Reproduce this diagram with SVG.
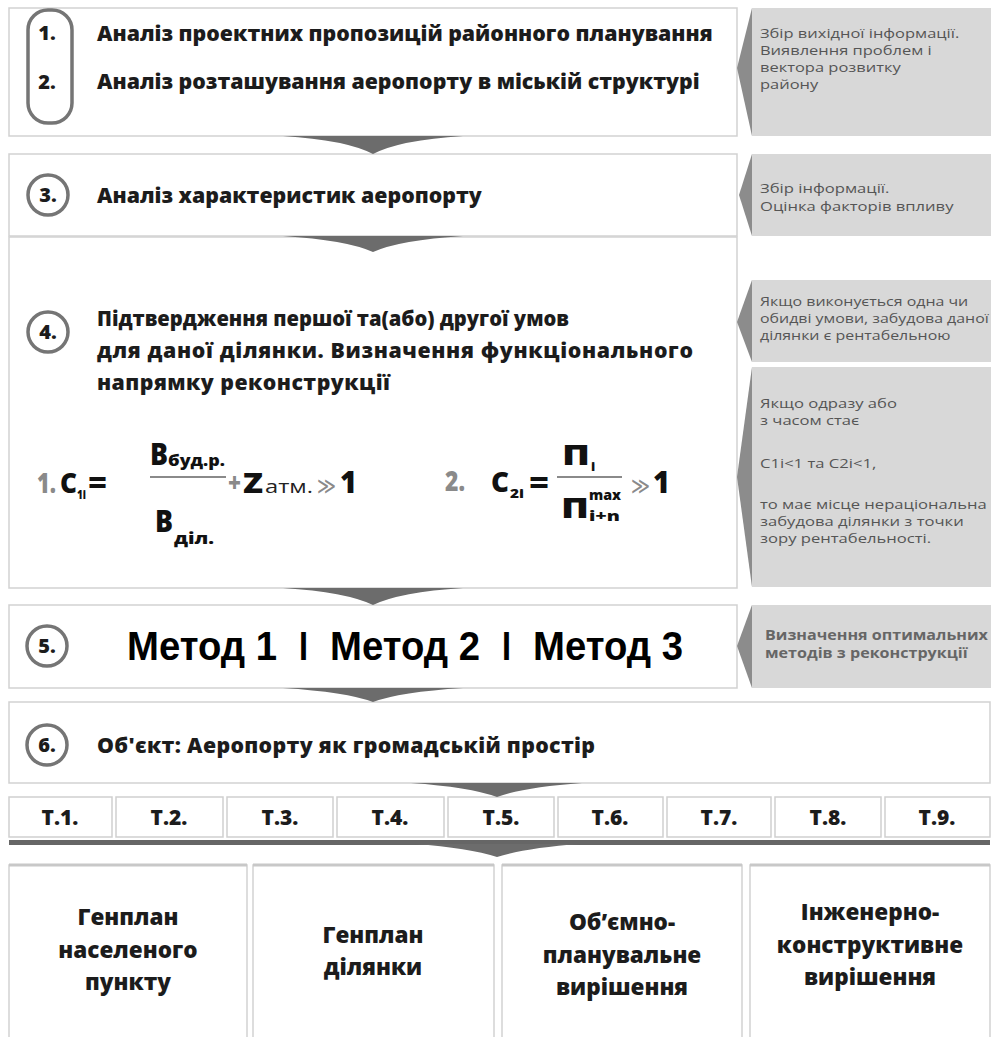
<svg xmlns="http://www.w3.org/2000/svg" width="991" height="1037" viewBox="0 0 991 1037">
<style>
.box{fill:#fff;stroke:#d2d2d2;stroke-width:1.5}
.cell{fill:#fff;stroke:#cfcfcf;stroke-width:1.5}
.panel{fill:#d8d8d8}
.wedge{fill:#8c8c8c}
.arrow{fill:#6c6c6c}
.circ{fill:#fff;stroke:#757575;stroke-width:3.5}
.h{font-family:"Open Sans","DejaVu Sans",sans-serif;font-weight:800;font-size:21.3px;fill:#1c1c1c}
.num{font-family:"Open Sans","DejaVu Sans",sans-serif;font-weight:800;font-size:20px;fill:#1c1c1c;text-anchor:middle}
.p{font-family:"Open Sans","DejaVu Sans",sans-serif;font-size:13.5px;fill:#555}
.pb{font-family:"Open Sans","DejaVu Sans",sans-serif;font-weight:700;font-size:14px;fill:#666}
.t{font-family:"Open Sans","DejaVu Sans",sans-serif;font-weight:800;font-size:21px;fill:#1c1c1c;text-anchor:middle}
.b{font-family:"Open Sans","DejaVu Sans",sans-serif;font-weight:800;font-size:22.5px;fill:#1c1c1c;text-anchor:middle}
.f{font-family:"Open Sans","DejaVu Sans",sans-serif;font-weight:800;fill:#111}
.fg{font-family:"Open Sans","DejaVu Sans",sans-serif;font-weight:800;fill:#8a8a8a}
.fl{stroke:#8a8a8a;stroke-width:2}
.m{font-family:"Liberation Sans",Arial,sans-serif;font-weight:700;font-size:40px;fill:#000}
</style>
<rect width="991" height="1037" fill="#fff"/>

<g id="step12">
<rect class="box" x="9" y="8" width="728" height="128"/>
<rect x="28" y="10" width="44" height="113" rx="20" fill="none" stroke="#757575" stroke-width="3.5"/>
<text class="num" x="47" y="40">1.</text>
<text class="num" x="47" y="89">2.</text>
<text class="h" x="97" y="41">Аналіз проектних пропозицій районного планування</text>
<text class="h" x="97" y="89">Аналіз розташування аеропорту в міській структурі</text>
</g>
<g id="note1">
<rect class="panel" x="752" y="8" width="239" height="128"/>
<polygon class="wedge" points="752,8 737,68 752,136"/>
<g transform="translate(760,0) scale(1.22,1) translate(-760,0)">
<text class="p" x="760" y="38">Збір вихідної інформації.</text>
<text class="p" x="760" y="55">Виявлення проблем і</text>
<text class="p" x="760" y="72">вектора розвитку</text>
<text class="p" x="760" y="89">району</text>
</g>
</g>

<g id="step3">
<rect class="box" x="9" y="154" width="728" height="82"/>
<circle class="circ" cx="48" cy="195" r="20"/>
<text class="num" x="48" y="202">3.</text>
<text class="h" x="97" y="203">Аналіз характеристик аеропорту</text>
</g>
<g id="note3">
<rect class="panel" x="752" y="154" width="239" height="82"/>
<polygon class="wedge" points="752,154 739,195 752,236"/>
<g transform="translate(760,0) scale(1.23,1) translate(-760,0)">
<text class="p" x="760" y="193">Збір інформації.</text>
<text class="p" x="760" y="211">Оцінка факторів впливу</text>
</g>
</g>

<g id="step4">
<rect class="box" x="9" y="237" width="728" height="351"/>
<circle class="circ" cx="48" cy="332" r="20"/>
<text class="num" x="48" y="339">4.</text>
<text class="h" x="97" y="326" textLength="472" lengthAdjust="spacingAndGlyphs">Підтвердження першої та(або) другої умов</text>
<text class="h" x="97" y="358" textLength="596" lengthAdjust="spacing">для даної ділянки. Визначення функціонального</text>
<text class="h" x="97" y="390" textLength="293" lengthAdjust="spacing">напрямку  реконструкції</text>
<g id="formula1">
<text class="fg" x="37" y="493" font-size="28" textLength="19" lengthAdjust="spacingAndGlyphs">1.</text>
<text class="f" x="60" y="493" font-size="28" textLength="17" lengthAdjust="spacingAndGlyphs">C</text>
<text class="f" x="77" y="499" font-size="13" textLength="9" lengthAdjust="spacingAndGlyphs">1i</text>
<text class="f" x="88" y="493" font-size="30" fill="#444" textLength="19" lengthAdjust="spacingAndGlyphs">=</text>
<text class="f" x="150" y="465" font-size="30" textLength="18" lengthAdjust="spacingAndGlyphs">B</text>
<text class="f" x="168" y="466" font-size="15" textLength="57" lengthAdjust="spacingAndGlyphs">буд.р.</text>
<line class="fl" x1="150" y1="477" x2="226" y2="477"/>
<text class="f" x="155" y="532" font-size="30" textLength="18" lengthAdjust="spacingAndGlyphs">B</text>
<text class="f" x="174" y="544" font-size="15" textLength="40" lengthAdjust="spacingAndGlyphs">діл.</text>
<text class="fg" x="228" y="492" font-size="26" textLength="13" lengthAdjust="spacingAndGlyphs">+</text>
<text class="f" x="243" y="493" font-size="28" textLength="20" lengthAdjust="spacingAndGlyphs">Z</text>
<text x="265" y="493" font-family="Open Sans, sans-serif" font-size="19" fill="#222" textLength="48" lengthAdjust="spacingAndGlyphs">атм.</text>
<text x="317" y="494" font-family="DejaVu Sans, sans-serif" font-size="24" fill="#8a8a8a" textLength="19" lengthAdjust="spacingAndGlyphs">≫</text>
<text class="f" x="340" y="493" font-size="30" textLength="17" lengthAdjust="spacingAndGlyphs">1</text>
</g>
<g id="formula2">
<text class="fg" x="445" y="491" font-size="28" textLength="20" lengthAdjust="spacingAndGlyphs">2.</text>
<text class="f" x="491" y="492" font-size="28" textLength="18" lengthAdjust="spacingAndGlyphs">C</text>
<text class="f" x="510" y="498" font-size="13" textLength="14" lengthAdjust="spacingAndGlyphs">2i</text>
<text class="f" x="529" y="493" font-size="30" fill="#444" textLength="20" lengthAdjust="spacingAndGlyphs">=</text>
<text class="f" x="562" y="465" font-size="28" textLength="28" lengthAdjust="spacingAndGlyphs">П</text>
<text class="f" x="591" y="471" font-size="13">i</text>
<line class="fl" x1="557" y1="477" x2="622" y2="477"/>
<text class="f" x="561" y="518" font-size="28" textLength="28" lengthAdjust="spacingAndGlyphs">П</text>
<text class="f" x="589" y="500" font-size="14" textLength="32" lengthAdjust="spacingAndGlyphs">max</text>
<text class="f" x="589" y="521" font-size="14" textLength="31" lengthAdjust="spacingAndGlyphs">i+n</text>
<text x="631" y="494" font-family="DejaVu Sans, sans-serif" font-size="24" fill="#8a8a8a" textLength="19" lengthAdjust="spacingAndGlyphs">≫</text>
<text class="f" x="653" y="493" font-size="30" textLength="17" lengthAdjust="spacingAndGlyphs">1</text>
</g>
</g>
<g id="note4a">
<rect class="panel" x="752" y="280" width="239" height="82"/>
<polygon class="wedge" points="752,280 737,322 752,362"/>
<g transform="translate(760,0) scale(1.18,1) translate(-760,0)">
<text class="p" x="760" y="306">Якщо виконується одна чи</text>
<text class="p" x="760" y="323">обидві умови, забудова даної</text>
<text class="p" x="760" y="340">ділянки є рентабельною</text>
</g>
</g>
<g id="note4b">
<rect class="panel" x="752" y="367" width="239" height="220"/>
<polygon class="wedge" points="752,367 737,477 752,587"/>
<g transform="translate(760,0) scale(1.23,1) translate(-760,0)">
<text class="p" x="760" y="408">Якщо одразу або</text>
<text class="p" x="760" y="425">з часом стає</text>
<text class="p" x="760" y="468">C1i&lt;1 та C2i&lt;1,</text>
<text class="p" x="760" y="509">то має місце нераціональна</text>
<text class="p" x="760" y="526">забудова ділянки з точки</text>
<text class="p" x="760" y="543">зору рентабельності.</text>
</g>
</g>

<g id="step5">
<rect class="box" x="9" y="605" width="728" height="83"/>
<circle class="circ" cx="47" cy="646" r="20"/>
<text class="num" x="47" y="653">5.</text>
<text class="m" x="127" y="660" textLength="150" lengthAdjust="spacingAndGlyphs">Метод 1</text>
<text class="m" x="299" y="660" textLength="9" lengthAdjust="spacingAndGlyphs">I</text>
<text class="m" x="330" y="660" textLength="150" lengthAdjust="spacingAndGlyphs">Метод 2</text>
<text class="m" x="502" y="660" textLength="9" lengthAdjust="spacingAndGlyphs">I</text>
<text class="m" x="533" y="660" textLength="150" lengthAdjust="spacingAndGlyphs">Метод 3</text>
</g>
<g id="note5">
<rect class="panel" x="752" y="605" width="239" height="83"/>
<polygon class="wedge" points="752,605 737,646 752,688"/>
<g transform="translate(765,0) scale(1.15,1) translate(-765,0)">
<text class="pb" x="765" y="640">Визначення оптимальних</text>
<text class="pb" x="765" y="658">методів з реконструкції</text>
</g>
</g>

<g id="step6">
<rect class="box" x="9" y="702" width="981" height="81"/>
<circle class="circ" cx="47" cy="745" r="20"/>
<text class="num" x="47" y="752">6.</text>
<text class="h" x="97" y="753" textLength="498" lengthAdjust="spacing">Об'єкт: Аеропорту як громадській простір</text>
</g>

<g id="tasks">
<rect class="cell" x="9" y="797" width="103" height="40"/><text class="t" x="60" y="825">T.1.</text>
<rect class="cell" x="116" y="797" width="107" height="40"/><text class="t" x="169" y="825">T.2.</text>
<rect class="cell" x="227" y="797" width="106" height="40"/><text class="t" x="280" y="825">T.3.</text>
<rect class="cell" x="337" y="797" width="107" height="40"/><text class="t" x="390" y="825">T.4.</text>
<rect class="cell" x="448" y="797" width="106" height="40"/><text class="t" x="501" y="825">T.5.</text>
<rect class="cell" x="558" y="797" width="105" height="40"/><text class="t" x="610" y="825">T.6.</text>
<rect class="cell" x="667" y="797" width="104" height="40"/><text class="t" x="719" y="825">T.7.</text>
<rect class="cell" x="775" y="797" width="106" height="40"/><text class="t" x="828" y="825">T.8.</text>
<rect class="cell" x="885" y="797" width="105" height="40"/><text class="t" x="937" y="825">T.9.</text>
</g>
<rect x="9" y="840" width="981" height="5" fill="#666"/>

<g id="out1"><rect class="box" x="9" y="865" width="238" height="180"/><line x1="9" y1="865" x2="247" y2="865" stroke="#c8c8c8" stroke-width="3"/>
<text class="b" x="128" y="925">Генплан</text><text class="b" x="128" y="958">населеного</text><text class="b" x="128" y="990">пункту</text></g>
<g id="out2"><rect class="box" x="253" y="865" width="241" height="180"/><line x1="253" y1="865" x2="494" y2="865" stroke="#c8c8c8" stroke-width="3"/>
<text class="b" x="373" y="943">Генплан</text><text class="b" x="373" y="975">ділянки</text></g>
<g id="out3"><rect class="box" x="502" y="865" width="240" height="180"/><line x1="502" y1="865" x2="742" y2="865" stroke="#c8c8c8" stroke-width="3"/>
<text class="b" x="622" y="930">Об’ємно-</text><text class="b" x="622" y="963">планувальне</text><text class="b" x="622" y="995">вирішення</text></g>
<g id="out4"><rect class="box" x="750" y="865" width="240" height="180"/><line x1="750" y1="865" x2="990" y2="865" stroke="#c8c8c8" stroke-width="3"/>
<text class="b" x="870" y="920">Інженерно-</text><text class="b" x="870" y="953">конструктивне</text><text class="b" x="870" y="985">вирішення</text></g>

<g id="connectors">
<path class="arrow" d="M283,136 L463,136 Q400,140 373,154 Q346,140 283,136 Z"/>
<path class="arrow" d="M283,236 L463,236 Q400,240 373,252 Q346,240 283,236 Z"/>
<path class="arrow" d="M283,588 L463,588 Q400,592 373,605 Q346,592 283,588 Z"/>
<path class="arrow" d="M283,688 L463,688 Q400,692 373,702 Q346,692 283,688 Z"/>
<path class="arrow" d="M411,783 L582,783 Q525,787 497,797 Q469,787 411,783 Z"/>
<path class="arrow" d="M415,844 L580,844 Q525,848 497,857 Q469,848 415,844 Z"/>
</g>
</svg>
